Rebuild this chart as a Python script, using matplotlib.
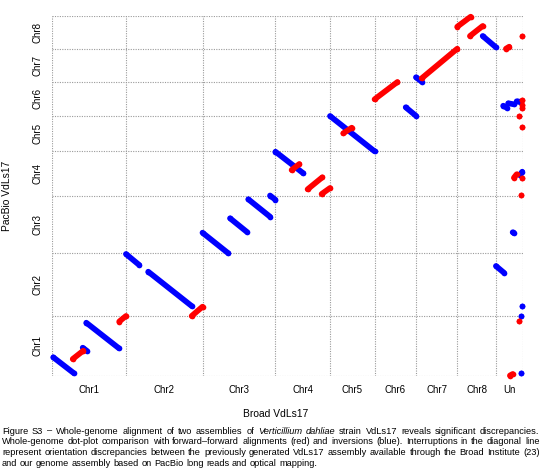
import matplotlib
matplotlib.use("Agg")
import matplotlib.pyplot as plt
import numpy as np

plt.rcParams["font.family"] = ["Liberation Sans", "DejaVu Sans"]

# Chromosome sizes (Mb) of the two assemblies
broad_chroms = ["Chr1", "Chr2", "Chr3", "Chr4", "Chr5", "Chr6", "Chr7", "Chr8", "Un"]
broad_sizes = [5.18, 5.36, 5.11, 3.82, 3.12, 2.90, 2.89, 2.71, 1.86]
pacbio_chroms = ["Chr1", "Chr2", "Chr3", "Chr4", "Chr5", "Chr6", "Chr7", "Chr8"]
pacbio_sizes = [5.95, 6.27, 5.78, 4.42, 3.55, 3.38, 3.33, 3.27]

# Alignments: broad chrom, broad start, broad end, pacbio chrom, pacbio start, pacbio end
inversions = [
    ("Chr1", 0.09, 1.54, "Chr1", 1.82, 0.22),
    ("Chr1", 2.15, 2.43, "Chr1", 2.78, 2.48),
    ("Chr1", 2.40, 4.69, "Chr1", 5.28, 2.72),
    ("Chr2", 0.00, 0.93, "Chr2", 6.20, 5.10),
    ("Chr2", 1.56, 4.60, "Chr2", 4.43, 1.00),
    ("Chr3", 0.00, 1.81, "Chr3", 2.06, 0.00),
    ("Chr3", 1.93, 3.09, "Chr3", 3.50, 2.16),
    ("Chr3", 3.21, 4.73, "Chr3", 5.40, 3.66),
    ("Chr3", 4.73, 5.11, "Chr3", 5.78, 5.35),
    ("Chr4", 0.00, 1.95, "Chr4", 4.38, 2.22),
    ("Chr5", 0.00, 3.12, "Chr5", 3.53, 0.00),
    ("Chr6", 2.18, 2.90, "Chr6", 0.85, 0.00),
    ("Chr7", 0.00, 0.40, "Chr7", 0.47, 0.03),
    ("Chr8", 1.78, 2.71, "Chr8", 1.27, 0.14),
    ("Un", 0.51, 0.75, "Chr6", 1.01, 0.81),
    ("Un", 0.86, 1.26, "Chr6", 1.25, 1.15),
    ("Un", 1.45, 1.68, "Chr6", 1.45, 1.41),
    ("Un", 1.68, 1.84, "Chr4", 2.05, 2.38),
    ("Un", 1.17, 1.25, "Chr3", 2.10, 2.02),
    ("Un", 0.00, 0.56, "Chr2", 5.00, 4.33),
    ("Un", 1.84, 1.84, "Chr2", 1.00, 1.00),
    ("Un", 1.77, 1.77, "Chr2", 0.02, 0.02),
    ("Un", 1.73, 1.73, "Chr1", 0.22, 0.22),
]

forward = [
    ("Chr1", 1.45, 2.19, "Chr1", 1.65, 2.48),
    ("Chr1", 4.71, 5.18, "Chr1", 5.40, 5.95),
    ("Chr2", 4.60, 5.36, "Chr2", 0.00, 0.93),
    ("Chr4", 1.13, 1.67, "Chr4", 2.55, 3.15),
    ("Chr4", 2.25, 3.28, "Chr4", 0.62, 1.82),
    ("Chr4", 3.23, 3.82, "Chr4", 0.15, 0.75),
    ("Chr5", 0.93, 1.52, "Chr5", 1.80, 2.36),
    ("Chr6", 0.00, 1.60, "Chr6", 1.65, 3.38),
    ("Chr7", 0.40, 2.89, "Chr7", 0.37, 3.33),
    ("Chr8", 0.00, 0.94, "Chr8", 2.20, 3.20),
    ("Chr8", 0.89, 1.78, "Chr8", 1.27, 2.27),
    ("Un", 0.70, 0.93, "Chr8", 0.00, 0.20),
    ("Un", 1.84, 1.84, "Chr8", 1.27, 1.27),
    ("Un", 1.79, 1.79, "Chr6", 1.58, 1.58),
    ("Un", 1.84, 1.84, "Chr6", 1.08, 1.08),
    ("Un", 1.79, 1.79, "Chr6", 0.81, 0.81),
    ("Un", 1.58, 1.58, "Chr5", 3.53, 3.53),
    ("Un", 1.79, 1.79, "Chr5", 2.43, 2.43),
    ("Un", 1.26, 1.45, "Chr4", 1.78, 2.12),
    ("Un", 1.85, 1.85, "Chr4", 1.78, 1.78),
    ("Un", 1.77, 1.77, "Chr4", 0.05, 0.05),
    ("Un", 1.63, 1.63, "Chr1", 5.45, 5.45),
    ("Un", 0.98, 1.17, "Chr1", 0.00, 0.15),
]

caption_lines = [
    "Figure S3 \u2013 Whole-genome alignment of two assemblies of Verticillium dahliae strain VdLs17 reveals significant discrepancies.",
    "Whole-genome dot-plot comparison with forward\u2013forward alignments (red) and inversions (blue). Interruptions in the diagonal line",
    "represent orientation discrepancies between the previously generated VdLs17 assembly available through the Broad Institute (23)",
    "and our genome assembly based on PacBio long reads and optical mapping.",
]
italic_words = ["Verticillium", "dahliae"]

# cumulative offsets
x_edges = np.concatenate([[0], np.cumsum(broad_sizes)])
y_edges = np.concatenate([[0], np.cumsum(pacbio_sizes)])
x_off = dict(zip(broad_chroms, x_edges[:-1]))
y_off = dict(zip(pacbio_chroms, y_edges[:-1]))

fig = plt.figure(figsize=(5.43, 4.73), dpi=100)
ax = fig.add_axes([52 / 543, 1 - 375.5 / 473, 470.5 / 543, 359.5 / 473])

for edge in x_edges:
    ax.axvline(edge, color="#9a9a9a", lw=0.8, ls=(0, (1, 1.2)), zorder=1)
for edge in y_edges:
    ax.axhline(edge, color="#9a9a9a", lw=0.8, ls=(0, (1, 1.2)), zorder=1)


def draw_alignments(rows, color):
    for bchr, b0, b1, pchr, p0, p1 in rows:
        xs = [x_off[bchr] + b0, x_off[bchr] + b1]
        ys = [y_off[pchr] + p0, y_off[pchr] + p1]
        ax.plot(xs, ys, color=color, lw=4.1, solid_capstyle="round",
                marker="o", ms=4.1, mew=0, clip_on=False, zorder=3)


draw_alignments(inversions, "#0000ff")
draw_alignments(forward, "#ff0000")

ax.set_xlim(x_edges[0], x_edges[-1])
ax.set_ylim(y_edges[0], y_edges[-1])
ax.set_xticks((x_edges[:-1] + x_edges[1:]) / 2)
ax.set_xticklabels(broad_chroms, fontsize=7)
ax.set_yticks((y_edges[:-1] + y_edges[1:]) / 2)
ax.set_yticklabels(pacbio_chroms, fontsize=7, rotation=90, va="center")
ax.tick_params(length=0, pad=7)
for spine in ax.spines.values():
    spine.set_visible(False)

fig.text(276 / 543, 1 - 414 / 473, "Broad VdLs17", fontsize=7.4,
         ha="center", va="center")
fig.text(7 / 543, 1 - 196 / 473, "PacBio VdLs17", fontsize=7.4,
         rotation=90, ha="center", va="center")

# justified caption
renderer = fig.canvas.get_renderer()
cap_size = 6.7
left_px, right_px = 2, 539.5
line_y = [431, 441.7, 452.3, 463]
for i, line in enumerate(caption_lines):
    words = line.split(" ")
    texts = []
    for w in words:
        style = "italic" if w in italic_words else "normal"
        t = fig.text(0, 1 - line_y[i] / 473, w, fontsize=cap_size, style=style,
                     ha="left", va="center")
        texts.append(t)
    widths = [t.get_window_extent(renderer).width for t in texts]
    if i < len(caption_lines) - 1:
        gap = (right_px - left_px - sum(widths)) / (len(words) - 1)
    else:
        gap = 0.278 * cap_size * 100 / 72
    x = left_px
    for t, w in zip(texts, widths):
        t.set_x(x / 543)
        x += w + gap

fig.savefig("out.png", dpi=100)
